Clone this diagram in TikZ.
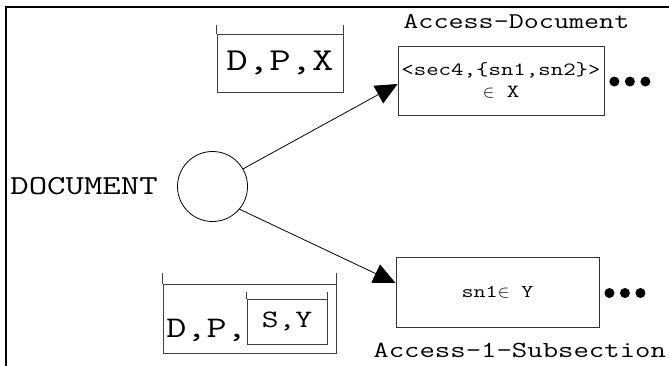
\documentclass[tikz,border=0pt]{standalone}
\usepackage{fontspec}
\setmonofont[FakeStretch=1.3]{Latin Modern Mono}
\usetikzlibrary{positioning}
\usetikzlibrary{arrows.meta}
\usetikzlibrary{calc}
\tikzset{>={Triangle[length=22pt,width=20pt]}}
\tikzset{
  cour/.style={font=\ttfamily\fontsize{#1}{#1}\selectfont, inner sep=0pt},
  pbox/.style={rectangle, draw=black!80, line width=0.9pt},
  bucket/.style={rectangle, draw=black!75, line width=0.9pt, inner sep=0pt},
}

\begin{document}
\begin{tikzpicture}[x=1pt, y=-1pt, line width=0.8pt]
            \useasboundingbox (0,0) rectangle (669,365);
            \draw[line width=1.8pt] (5.7,380) -- (5.7,6.7) -- (690,6.7);
            \node[circle, draw, minimum size=70pt, inner sep=0pt] (doc) at (212.5,186.5) {};
            \node[cour=27.5] (doclbl) [left=19pt of doc] {DOCUMENT};
            \node[pbox, minimum width=204pt, minimum height=69pt, align=center,
                  font=\ttfamily\fontsize{18.6}{22}\selectfont] (accdoc) at (501,80.5)
                  {<sec4,\{sn1,sn2\}>\\$\in$ X};
            \node[cour=22.5, anchor=base west] (accdoclbl) at (403,28) {Access-Document};
            \node[pbox, minimum width=203pt, minimum height=70pt,
                  font=\ttfamily\fontsize{18}{21}\selectfont] (accsub) at (497.5,292) {sn1$\in$ Y};
            \node[cour=23, anchor=base west] (accsublbl) at (373,357) {Access-1-Subsection};
            \node[bucket, cour=32, minimum width=126pt, minimum height=58pt] (dpx) at (280,63) {D,P,X};
            \node[bucket, minimum width=173pt, minimum height=69pt] (dpsy) at (249.5,318.5) {};
            \node[bucket, cour=25, minimum width=80pt, minimum height=45pt] (sy) at (287,321.5) {S,Y};
            \node[cour=30, anchor=base west] (dp) at (166,337) {D,P,};
            \foreach \b/\h in {dpx/9, dpsy/11, sy/7}
              \draw[black!75, line width=0.9pt] (\b.north west) -- ++(0,-\h) (\b.north east) -- ++(0,-\h);
            \draw[->] (doc.30) -- ($(accdoc.west)+(0,3.5)$);
            \draw[->] (doc.-40) -- ($(accsub.west)+(0,-9)$);
            \foreach \b in {accdoc, accsub}
              \foreach \i in {0,1,2}
                \fill ($(\b.east)+(10+15.5*\i,1)$) circle (5);
        \end{tikzpicture}
\end{document}
